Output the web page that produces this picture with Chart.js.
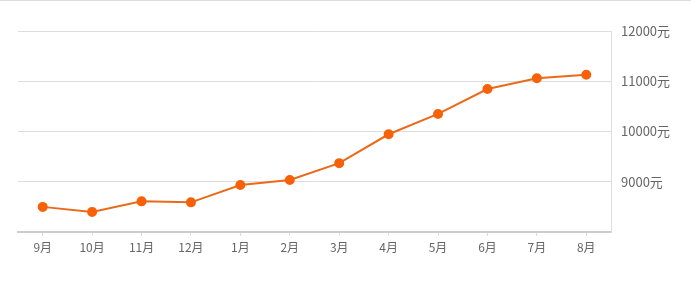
<!DOCTYPE html>
<html>
<head>
<meta charset="utf-8">
<script src="https://cdn.jsdelivr.net/npm/chart.js@4/dist/chart.umd.min.js"></script>
<style>
  html, body { margin: 0; padding: 0; background: #fff; }
  .wrap { position: relative; width: 691px; height: 281px; border-top: 1px solid #ddd; box-sizing: border-box; }
  canvas { display: block; }
</style>
</head>
<body>
<div class="wrap">
  <canvas id="chart" width="691" height="280"></canvas>
</div>
<script>
const months = ['9月', '10月', '11月', '12月', '1月', '2月', '3月', '4月', '5月', '6月', '7月', '8月'];
const prices = [8500, 8400, 8610, 8590, 8935, 9035, 9370, 9945, 10350, 10845, 11060, 11130];
const yTicks = [8000, 9000, 10000, 11000, 12000];

const ctx = document.getElementById('chart').getContext('2d');

new Chart(ctx, {
  type: 'line',
  data: {
    labels: months,
    datasets: [
      {
        data: prices,
        borderColor: '#eb6a1a',
        borderWidth: 2,
        pointBackgroundColor: '#f86108',
        pointBorderColor: '#f86108',
        pointRadius: 4,
        pointHoverRadius: 4,
        tension: 0,
        fill: false,
      },
    ],
  },
  options: {
    responsive: false,
    animation: false,
    layout: {
      padding: { left: 18, top: 30, right: 0, bottom: 0 },
    },
    plugins: {
      legend: { display: false },
      tooltip: { enabled: false },
    },
    scales: {
      x: {
        offset: true,
        grid: {
          display: true,
          drawOnChartArea: false,
          drawTicks: true,
          tickLength: 4,
          color: '#ddd',
          offset: false,
        },
        border: { color: '#ccc', width: 2 },
        ticks: {
          color: '#666',
          font: { family: '"Noto Sans CJK SC", sans-serif', size: 12 },
          padding: 4,
          maxRotation: 0,
        },
        afterFit(scale) {
          scale.height = 49;
        },
      },
      y: {
        position: 'right',
        min: yTicks[0],
        max: yTicks[yTicks.length - 1],
        afterBuildTicks(scale) {
          scale.ticks = yTicks.map((v) => ({ value: v }));
        },
        grid: {
          color: '#ddd',
          drawTicks: false,
        },
        border: { color: '#ddd', width: 1 },
        ticks: {
          color: '#666',
          font: { family: '"Noto Sans CJK SC", sans-serif', size: 13 },
          padding: 10,
          callback: (v) => (v === yTicks[0] ? '' : v + '元'),
        },
        afterFit(scale) {
          scale.width = 80;
        },
      },
    },
  },
});
</script>
</body>
</html>
